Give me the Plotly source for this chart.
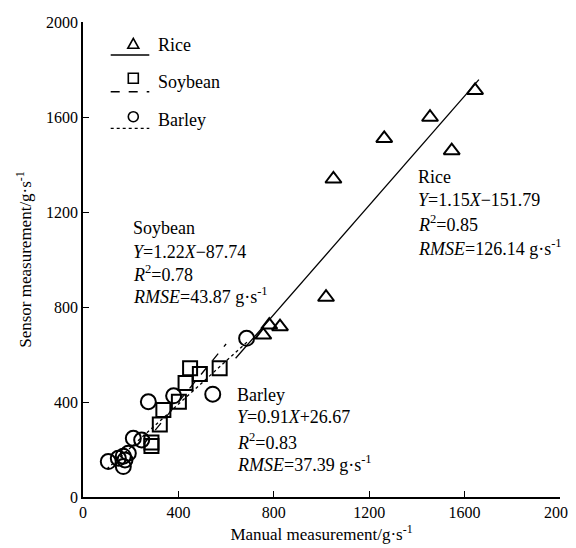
import plotly.graph_objects as go

# ---- data ----
rice_x = [756, 781, 826, 1019, 1050, 1263, 1455, 1546, 1644]
rice_y = [682, 724, 717, 841, 1339, 1510, 1599, 1458, 1712]

soy_x = [287, 287, 322, 337, 402, 430, 449, 490, 573]
soy_y = [215, 230, 305, 366, 401, 480, 542, 518, 542]

barley_x = [106, 148, 169, 169, 176, 190, 211, 246, 274, 380, 544, 686]
barley_y = [149, 163, 128, 172, 156, 184, 247, 240, 401, 426, 433, 668]

# regression lines: slope, intercept, x-range
rice_fit = (1.15, -151.79, [640, 1660])
soy_fit = (1.22, -87.74, [255, 600])
barley_fit = (0.91, 26.67, [100, 690])

axis_ticks = [0, 400, 800, 1200, 1600, 2000]

FONT = "Liberation Serif, Times New Roman, Times, serif"

fig = go.Figure()

def fit_line(fit, dash):
    a, b, xr = fit
    return go.Scatter(x=xr, y=[a * v + b for v in xr], mode="lines",
                      line=dict(color="black", width=1.3, dash=dash),
                      hoverinfo="skip", showlegend=False)

fig.add_trace(fit_line(rice_fit, "solid"))
fig.add_trace(fit_line(soy_fit, "dash"))
fig.add_trace(fit_line(barley_fit, "dot"))

mk = dict(color="black", line=dict(color="black", width=2))
fig.add_trace(go.Scatter(x=rice_x, y=rice_y, mode="markers", showlegend=False,
                         marker=dict(symbol="triangle-up-open", size=14, **mk)))
fig.add_trace(go.Scatter(x=soy_x, y=soy_y, mode="markers", showlegend=False,
                         marker=dict(symbol="square-open", size=14, **mk)))
fig.add_trace(go.Scatter(x=barley_x, y=barley_y, mode="markers", showlegend=False,
                         marker=dict(symbol="circle-open", size=15, **mk)))

# ---- layout helpers (screen pixel -> paper); page body has an 8px margin ----
OFF = 8
W, H = 576 - OFF, 548 - OFF
L, R, T, B = 83 - OFF, 16, 22 - OFF, 51
PW, PH = W - L - R, H - T - B

def px(x):
    return (x - OFF - L) / PW

def py(y):
    return (H - B - (y - OFF)) / PH

shapes = []
annotations = []

# manual legend
cx, cy = 133.3, 43.3
shapes.append(dict(type="path", xref="paper", yref="paper",
                   path=f"M {px(cx-5.5)},{py(cy+5)} L {px(cx+5.5)},{py(cy+5)} L {px(cx)},{py(cy-5)} Z",
                   line=dict(color="black", width=1.6)))
shapes.append(dict(type="line", xref="paper", yref="paper", x0=px(110.7), x1=px(149.3),
                   y0=py(55), y1=py(55), line=dict(color="black", width=1.3)))
cx, cy = 133.3, 78.3
shapes.append(dict(type="rect", xref="paper", yref="paper", x0=px(cx-5), x1=px(cx+5),
                   y0=py(cy+5), y1=py(cy-5), line=dict(color="black", width=1.6)))
shapes.append(dict(type="line", xref="paper", yref="paper", x0=px(110.7), x1=px(149.3),
                   y0=py(91.7), y1=py(91.7), line=dict(color="black", width=1.6, dash="dash")))
cx, cy = 133.3, 116.7
shapes.append(dict(type="circle", xref="paper", yref="paper", x0=px(cx-5), x1=px(cx+5),
                   y0=py(cy+5), y1=py(cy-5), line=dict(color="black", width=1.6)))
shapes.append(dict(type="line", xref="paper", yref="paper", x0=px(110.7), x1=px(149.3),
                   y0=py(128.3), y1=py(128.3), line=dict(color="black", width=1.2, dash="dot")))

for label, yy in [("Rice", 45), ("Soybean", 81.7), ("Barley", 120)]:
    annotations.append(dict(text=label, xref="paper", yref="paper", x=px(156), y=py(yy),
                            xanchor="left", yanchor="middle", showarrow=False,
                            font=dict(family=FONT, size=18, color="black")))

def block(x0, ys, lines):
    for t, yy in zip(lines, ys):
        annotations.append(dict(text=t, xref="paper", yref="paper", x=px(x0), y=py(yy),
                                xanchor="left", yanchor="middle", showarrow=False,
                                font=dict(family=FONT, size=18, color="black")))

block(416, [176.7, 200, 223.3, 247], [
    "Rice",
    "<i>Y</i>=1.15<i>X</i>\u2212151.79",
    "<i>R</i><sup>2</sup>=0.85",
    "<i>RMSE</i>=126.14 g\u00b7s<sup>-1</sup>",
])
block(131, [228.3, 251.7, 273.3, 295], [
    "Soybean",
    "<i>Y</i>=1.22<i>X</i>\u221287.74",
    "<i>R</i><sup>2</sup>=0.78",
    "<i>RMSE</i>=43.87 g\u00b7s<sup>-1</sup>",
])
block(235, [395, 416.7, 441, 463.3], [
    "Barley",
    "<i>Y</i>=0.91<i>X</i>+26.67",
    "<i>R</i><sup>2</sup>=0.83",
    "<i>RMSE</i>=37.39 g\u00b7s<sup>-1</sup>",
])

ax = dict(range=[0, 2000], tickvals=axis_ticks, ticktext=[str(v) for v in axis_ticks],
          ticks="inside", ticklen=6, tickwidth=1.3, tickcolor="black",
          showline=True, linecolor="black", linewidth=1.5, showgrid=False, zeroline=False,
          tickfont=dict(family=FONT, size=16, color="black"))

fig.update_layout(
    width=W, height=H,
    margin=dict(l=L, r=R, t=T, b=B, autoexpand=False),
    paper_bgcolor="white", plot_bgcolor="white",
    showlegend=False,
    font=dict(family=FONT, color="black"),
    xaxis=dict(**ax, title=dict(text="Manual measurement/g\u00b7s<sup>-1</sup>",
                                font=dict(family=FONT, size=17, color="black"), standoff=8)),
    yaxis=dict(**ax, title=dict(text="Sensor measurement/g\u00b7s<sup>-1</sup>",
                                font=dict(family=FONT, size=17, color="black"), standoff=10)),
    shapes=shapes, annotations=annotations,
)

fig.write_html("out.html")
